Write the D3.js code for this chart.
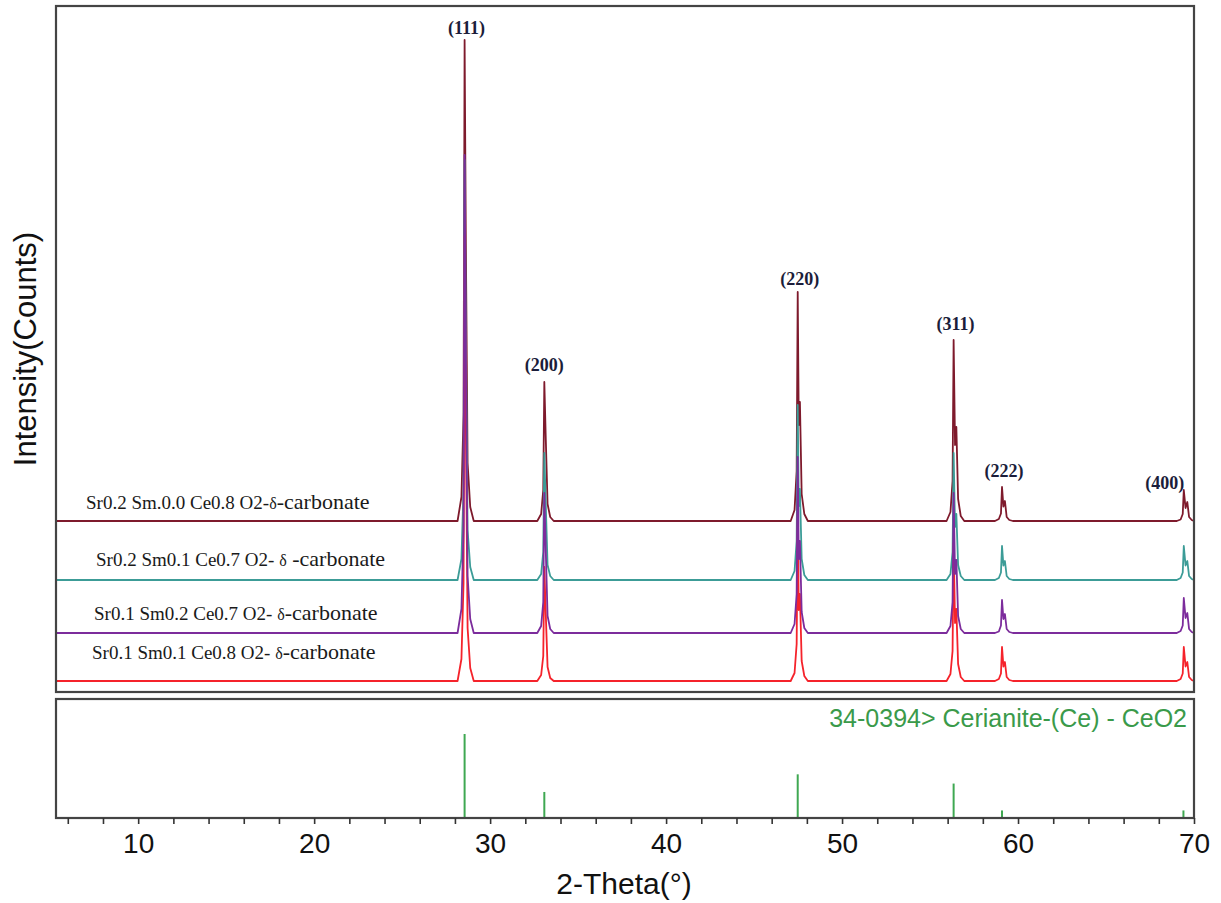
<!DOCTYPE html>
<html>
<head>
<meta charset="utf-8">
<script src="https://cdn.jsdelivr.net/npm/d3@7"></script>
<style>
  body { margin: 0; background: #fff; }
  svg { display: block; }
</style>
</head>
<body>
<div id="chart"></div>
<script>
// 2-theta grid shared by the four scans (start, then the points around each peak)
const twoTheta = [5.33,
  28.15, 28.37, 28.49, 28.55, 28.62, 28.72, 28.87, 29.07,
  32.68, 32.90, 33.02, 33.08, 33.165, 33.265, 33.415, 33.615,
  47.08, 47.30, 47.42, 47.48, 47.54, 47.605, 47.705, 47.855, 48.055,
  55.94, 56.16, 56.28, 56.34, 56.42, 56.495, 56.595, 56.745, 56.945,
  58.69, 58.91, 59.03, 59.09, 59.17, 59.255, 59.355, 59.505, 59.705,
  69.02, 69.24, 69.36, 69.42, 69.52, 69.62, 69.72, 69.87, 70.0];

const seriesNames = [
  "Sr0.2 Sm.0.0 Ce0.8 O2-|δ|-carbonate",
  "Sr0.2 Sm0.1 Ce0.7 O2- |δ| -carbonate",
  "Sr0.1 Sm0.2 Ce0.7 O2- |δ|-carbonate",
  "Sr0.1 Sm0.1 Ce0.8 O2- |δ|-carbonate"
];

// stacking offset of each scan (counts)
const offsets = [1710, 1120, 590, 110];

const countsSr2Sm0 = [0,
  0, 240, 1060, 4810, 2790, 580, 140, 0,
  0, 70, 310, 1390, 810, 170, 40, 0,
  0, 110, 500, 2290, 960, 1190, 270, 70, 0,
  0, 90, 400, 1810, 760, 940, 220, 50, 0,
  0, 20, 75, 340, 145, 200, 40, 10, 0,
  0, 15, 70, 310, 130, 190, 40, 10, 0];

const countsSr2Sm1 = [0,
  0, 210, 920, 4200, 2440, 500, 130, 0,
  0, 60, 280, 1270, 740, 150, 40, 0,
  0, 90, 390, 1750, 740, 910, 210, 50, 0,
  0, 60, 280, 1270, 530, 660, 150, 40, 0,
  0, 20, 75, 340, 145, 190, 40, 10, 0,
  0, 20, 75, 340, 145, 190, 40, 10, 0];

const countsSr1Sm2 = [0,
  0, 240, 1050, 4780, 2770, 570, 140, 0,
  0, 70, 310, 1400, 810, 170, 40, 0,
  0, 90, 390, 1760, 740, 920, 210, 50, 0,
  0, 70, 310, 1400, 590, 730, 170, 40, 0,
  0, 15, 75, 330, 140, 190, 40, 10, 0,
  0, 20, 75, 350, 150, 200, 40, 10, 0];

const countsSr1Sm1 = [0,
  0, 220, 980, 4450, 2580, 530, 130, 0,
  0, 60, 250, 1140, 660, 140, 30, 0,
  0, 80, 370, 1680, 710, 870, 200, 50, 0,
  0, 70, 300, 1380, 580, 720, 170, 40, 0,
  0, 20, 75, 340, 145, 190, 40, 10, 0,
  0, 20, 75, 340, 145, 190, 40, 10, 0];

const allCounts = [countsSr2Sm0, countsSr2Sm1, countsSr1Sm2, countsSr1Sm1];

// reflections labelled on the top scan
const hklLabels = ["(111)", "(200)", "(220)", "(311)", "(222)", "(400)"];
const hklPos = [28.55, 33.08, 47.48, 56.34, 59.09, 69.42];
const hklTop = [4810, 1390, 2290, 1810, 340, 310];

// reference card 34-0394 Cerianite-(Ce) CeO2
const refPos = [28.55, 33.08, 47.48, 56.34, 59.09, 69.40];
const refInt = [100, 31, 52, 41, 9, 9];
const refName = "34-0394> Cerianite-(Ce) - CeO2";

const xTicks = d3.range(6, 71, 2);

const colors = ["#7e1a2c", "#3c9c97", "#7c2c9c", "#f5232b"];
const drawOrder = [0, 1, 3, 2];

const W = 1221, H = 903;
const left = 56, right = 1194;
const top1 = 6, bottom1 = 692;
const top2 = 699, bottom2 = 818;

const svg = d3.select("#chart").append("svg").attr("width", W).attr("height", H);

const x = d3.scaleLinear().domain([5.33, 70]).range([left, right]);
const y = d3.scaleLinear().domain([0, 6860]).range([bottom1, top1]);
const yRef = d3.scaleLinear().domain([0, 100]).range([bottom2, 734]);

const plot = svg.append("g");

for (const i of drawOrder) {
  const pts = twoTheta.map((t, j) => [t, allCounts[i][j] + offsets[i]]);
  plot.append("path")
    .datum(pts)
    .attr("fill", "none")
    .attr("stroke", colors[i])
    .attr("stroke-width", 1.8)
    .attr("stroke-linejoin", "round")
    .attr("d", d3.line().x(d => x(d[0])).y(d => y(d[1])));
}

// series labels
const labelX = [86, 96, 94, 92];
const labelDy = [-12, -14, -13, -22];
seriesNames.forEach((name, i) => {
  const parts = name.split("|");
  const t = svg.append("text")
    .attr("x", labelX[i])
    .attr("y", y(offsets[i]) + labelDy[i])
    .attr("font-family", "Liberation Serif, Times New Roman, serif")
    .attr("fill", "#1a1a1a");
  t.append("tspan").attr("font-size", 19).text(parts[0]);
  t.append("tspan").attr("font-size", 16).text(parts[1]);
  t.append("tspan").attr("font-size", 22).text(parts[2]);
});

// hkl labels
const hklDx = [2, 0, 2, 2, 2, -19];
const hklDy = [-6, -11, -7, -10, -10, -1];
hklLabels.forEach((lab, i) => {
  svg.append("text")
    .attr("x", x(hklPos[i]) + hklDx[i])
    .attr("y", y(hklTop[i] + offsets[0]) + hklDy[i])
    .attr("text-anchor", "middle")
    .attr("font-family", "Liberation Serif, Times New Roman, serif")
    .attr("font-weight", "bold")
    .attr("font-size", 18)
    .attr("fill", "#1b1d3a")
    .text(lab);
});

// reference sticks
svg.append("g").selectAll("line")
  .data(refPos.map((p, i) => [p, refInt[i]]))
  .join("line")
  .attr("x1", d => x(d[0])).attr("x2", d => x(d[0]))
  .attr("y1", yRef(0)).attr("y2", d => yRef(d[1]))
  .attr("stroke", "#3fa852")
  .attr("stroke-width", 2);

svg.append("text")
  .attr("x", 1187).attr("y", 727)
  .attr("text-anchor", "end")
  .attr("font-family", "Liberation Sans, Arial, sans-serif")
  .attr("font-size", 25)
  .attr("fill", "#3a9a4a")
  .text(refName);

// frames
svg.append("rect")
  .attr("x", left).attr("y", top1)
  .attr("width", right - left).attr("height", bottom1 - top1)
  .attr("fill", "none").attr("stroke", "#444").attr("stroke-width", 2.2);
svg.append("rect")
  .attr("x", left).attr("y", top2)
  .attr("width", right - left).attr("height", bottom2 - top2)
  .attr("fill", "none").attr("stroke", "#444").attr("stroke-width", 2.2);

// x axis
const axis = svg.append("g")
  .attr("transform", `translate(0,${bottom2})`)
  .call(d3.axisBottom(x).tickValues(xTicks).tickSize(6).tickPadding(9)
    .tickFormat(d => d % 10 === 0 ? d : ""));
axis.select(".domain").remove();
axis.selectAll(".tick line").attr("stroke", "#333").attr("stroke-width", 1.6);
axis.selectAll(".tick text")
  .attr("font-family", "Liberation Sans, Arial, sans-serif")
  .attr("font-size", 28)
  .attr("fill", "#111");

svg.append("text")
  .attr("x", 624).attr("y", 894)
  .attr("text-anchor", "middle")
  .attr("font-family", "Liberation Sans, Arial, sans-serif")
  .attr("font-size", 30)
  .attr("fill", "#111")
  .text("2-Theta(°)");

svg.append("text")
  .attr("transform", "translate(36,349) rotate(-90)")
  .attr("text-anchor", "middle")
  .attr("font-family", "Liberation Sans, Arial, sans-serif")
  .attr("font-size", 31)
  .attr("fill", "#111")
  .text("Intensity(Counts)");
</script>
</body>
</html>
